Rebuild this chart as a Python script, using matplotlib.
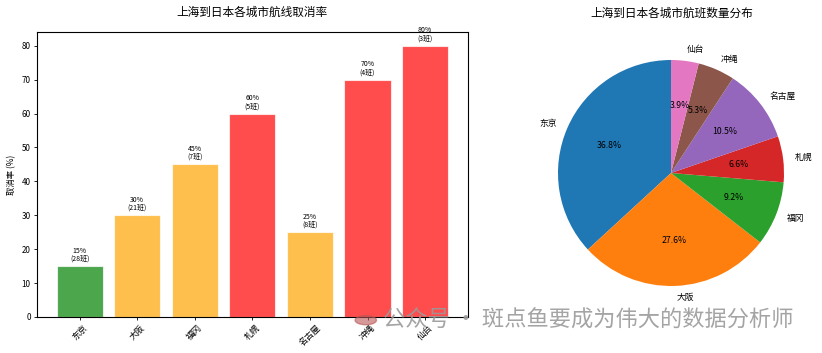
import matplotlib
matplotlib.use("Agg")
import matplotlib.pyplot as plt
from matplotlib.patches import Circle

plt.rcParams['font.family'] = ['Noto Sans CJK SC', 'DejaVu Sans']
plt.rcParams['axes.unicode_minus'] = False

cities = ['东京', '大阪', '福冈', '札幌', '名古屋', '冲绳', '仙台']
cancel_rate = [15, 30, 45, 60, 25, 70, 80]
flights = [28, 21, 7, 5, 8, 4, 3]

def color_for(r):
    if r < 20:
        return 'green'
    elif r < 50:
        return 'orange'
    return 'red'

bar_colors = [color_for(r) for r in cancel_rate]

fig = plt.figure(figsize=(8.22, 3.53), dpi=100)
ax1 = fig.add_axes([0.045, 0.102, 0.524, 0.807])
bars = ax1.bar(cities, cancel_rate, color=bar_colors, alpha=0.7, edgecolor='white', linewidth=0.8, width=0.8)
for b, r, n in zip(bars, cancel_rate, flights):
    ax1.text(b.get_x() + b.get_width() / 2, b.get_height() + 1, f'{r}%\n({n}班)',
             ha='center', va='bottom', fontsize=5, linespacing=1.0)
ax1.set_ylim(0, 84)
ax1.set_title('上海到日本各城市航线取消率', fontsize=8.4, pad=12)
ax1.set_ylabel('取消率 (%)', fontsize=6, labelpad=4)
ax1.tick_params(axis='y', labelsize=5.8, length=2.5, width=0.6, pad=2)
ax1.tick_params(axis='x', labelsize=6.2, length=2.5, width=0.6, pad=2)
plt.setp(ax1.get_xticklabels(), rotation=45)
for s in ax1.spines.values():
    s.set_linewidth(0.8)

R = 113
cx, cy = 671, 173
half = R * 1.25
ax2 = fig.add_axes([(cx - half) / 822, (353 - cy - half) / 353, 2 * half / 822, 2 * half / 353])
ax2.pie(flights, labels=cities, autopct='%1.1f%%', startangle=90,
        textprops={'fontsize': 6.3}, pctdistance=0.6, labeldistance=1.1)
ax2.set_aspect('equal')
fig.text(0.817, 0.962, '上海到日本各城市航班数量分布', ha='center', va='center', fontsize=8.4)

# watermark
fig.text(0.466, 0.093, '公众号 · 斑点鱼要成为伟大的数据分析师', fontsize=16,
         color='#9a9a9a', alpha=0.9, ha='left', va='center')
wm = Circle((0.445, 0.093), 0.013, transform=fig.transFigure, color='#b55', alpha=0.6)
fig.patches.append(wm)

fig.savefig('out.png', dpi=100)
